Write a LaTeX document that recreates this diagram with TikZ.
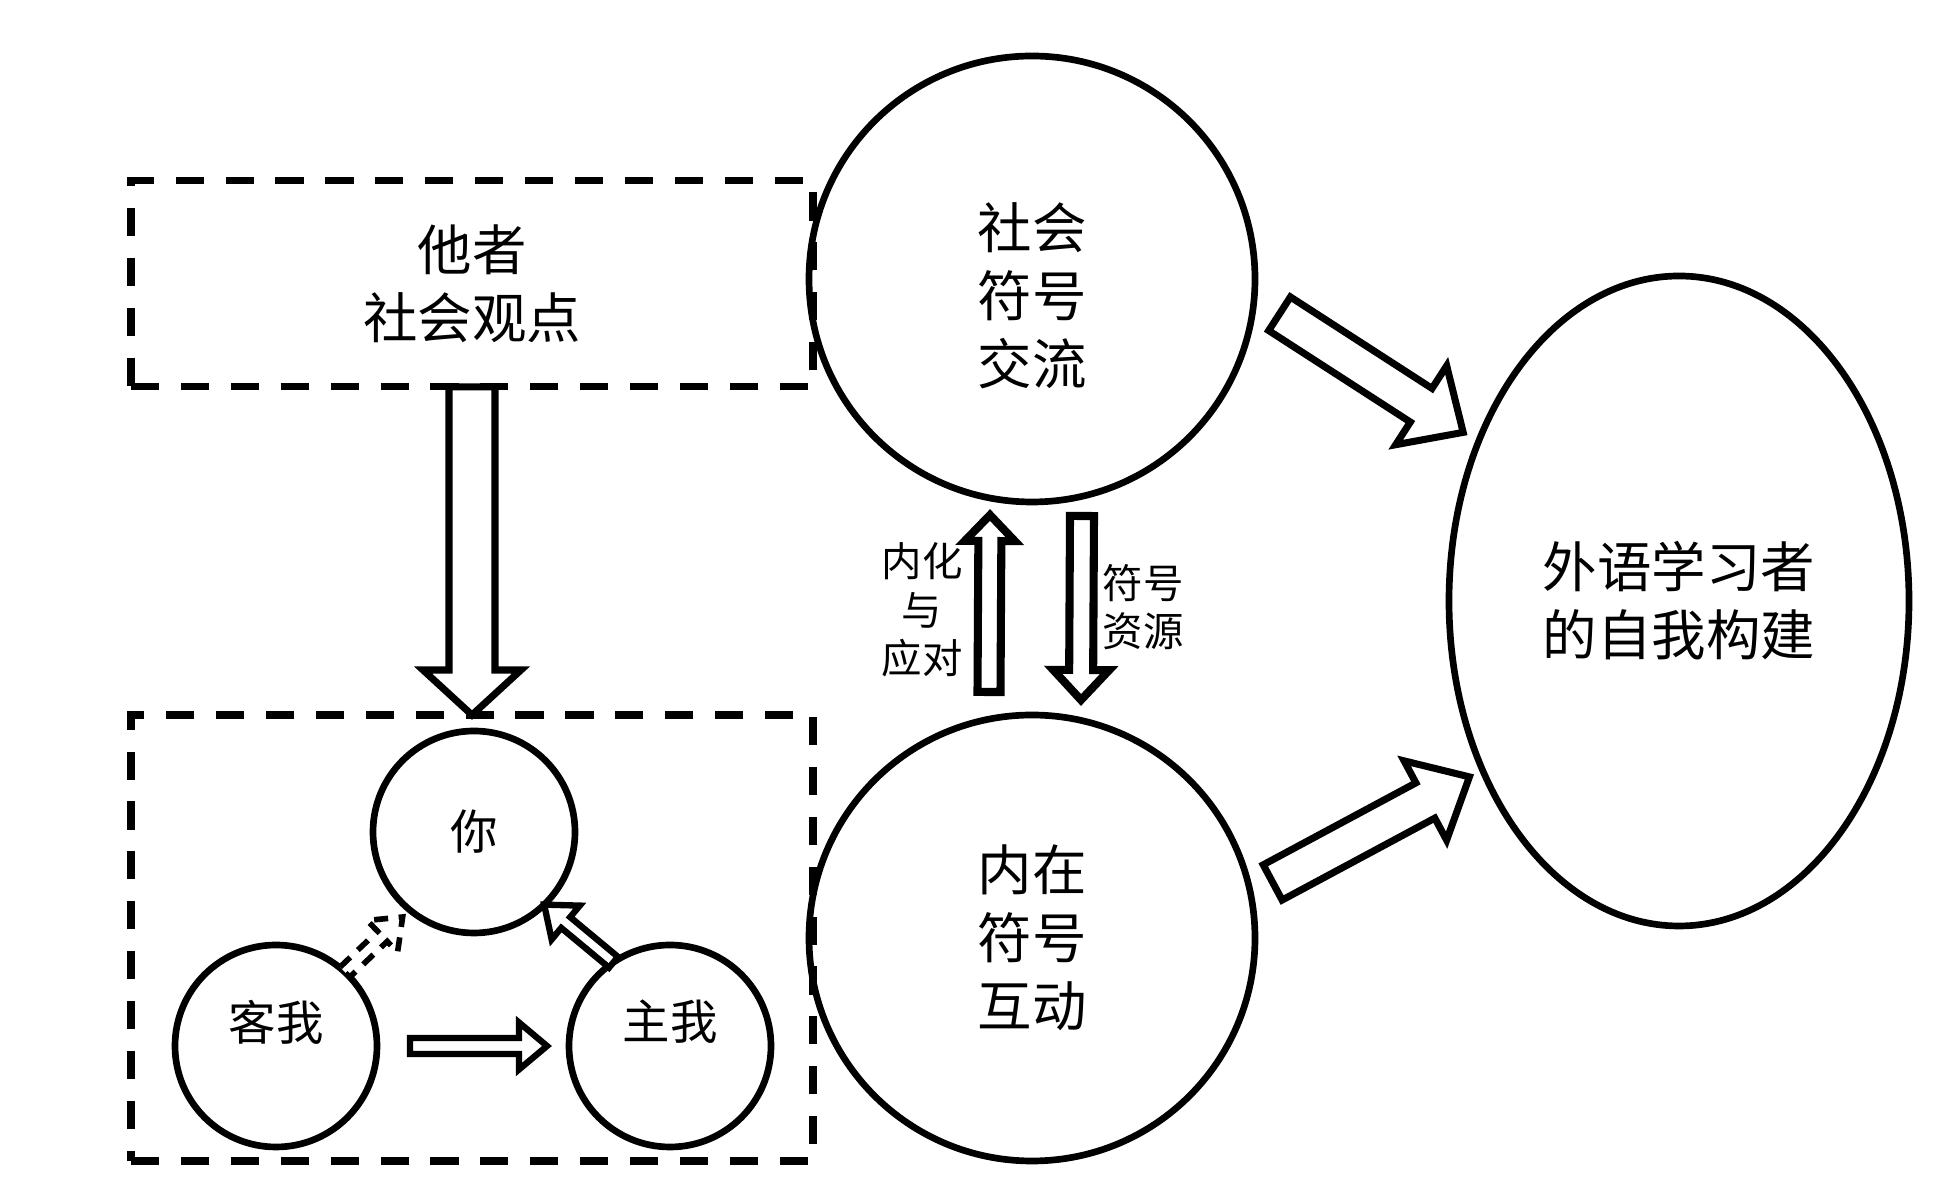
\documentclass[tikz,border=0pt]{standalone}
\usepackage{fontspec}
\setmainfont{Noto Sans CJK SC}
\usepackage{tikz}
\usetikzlibrary{shapes,positioning,calc}

\newcommand{\cnbig}{\fontsize{15.5pt}{19.3pt}\selectfont}
\newcommand{\cnmid}{\fontsize{13.5pt}{16pt}\selectfont}
\newcommand{\cnsmall}{\fontsize{11.5pt}{13.8pt}\selectfont}

% hollow block arrow: [style] {from} {to} {half shaft} {half head} {head length}
\newcommand{\hollowarrow}[6][]{%
  \coordinate (ha-a) at (#2);
  \coordinate (ha-b) at (#3);
  \coordinate (ha-h) at ($(ha-b)!#6!(ha-a)$);
  \draw[blockarrow,#1] ($(ha-a)!#4!90:(ha-b)$) -- ($(ha-h)!#4!-90:(ha-a)$)
    -- ($(ha-h)!#5!-90:(ha-a)$) -- (ha-b) -- ($(ha-h)!#5!90:(ha-a)$)
    -- ($(ha-h)!#4!90:(ha-a)$) -- ($(ha-a)!#4!-90:(ha-b)$) -- cycle;
}

\begin{document}
\begin{tikzpicture}
\tikzstyle{dashbox}=[draw, shape=rectangle, dash pattern=on 8pt off 6.2pt, line width=2pt, inner sep=0pt, outer sep=0pt, minimum width=6.82cm]
\tikzstyle{bigcirc}=[draw, shape=circle, line width=1.9pt, minimum size=4.46cm, outer sep=0pt, align=center, font=\cnbig]
\tikzstyle{smallcirc}=[draw, shape=circle, line width=1.9pt, minimum size=2.02cm, outer sep=0pt, font=\cnmid]
\tikzstyle{lift}=[yshift=0.24cm, font=\cnmid]
\tikzstyle{sink}=[yshift=-0.17cm, align=center, font=\cnbig]
\tikzstyle{note}=[align=center, font=\cnsmall]
\tikzstyle{blockarrow}=[draw, fill=white, line width=2pt, line join=miter]

\useasboundingbox (0,0) rectangle (19.51,11.81);

\node[dashbox, minimum height=4.46cm] (self) at (4.72,2.43) {};
\node[dashbox, minimum height=2.06cm, align=center, font=\cnbig] (other) [above=3.28cm of self] {他者\\社会观点};

\node[bigcirc, label={[sink]center:社会\\符号\\交流}] (social) at (10.32,9.02) {};
\node[bigcirc] (inner) [below=2.13cm of social] {内在\\符号\\互动};
\node[draw, shape=ellipse, line width=1.9pt, minimum width=4.6cm, minimum height=6.5cm, align=center, font=\cnbig] (learner) at (16.79,5.80) {外语学习者\\的自我构建};

\node[smallcirc] (you) at (4.74,3.49) {你};
\node[smallcirc, label={[lift]center:客我}] (me) at (2.76,1.35) {};
\node[smallcirc, label={[lift]center:主我}] (I) [right=1.92cm of me] {};

\node[note] (cope) at (9.22,5.71) {内化\\与\\应对};
\node[note] (res) at (11.43,5.74) {符号\\资源};

\hollowarrow{other.south}{self.north}{0.23cm}{0.49cm}{0.45cm}
\hollowarrow[line width=2.3pt]{$(inner.north)+(-0.43,0.23)$}{$(social.south)+(-0.42,-0.13)$}{0.115cm}{0.25cm}{0.26cm}
\hollowarrow[line width=2.3pt]{$(social.south)+(0.50,-0.14)$}{$(inner.north)+(0.49,0.15)$}{0.12cm}{0.28cm}{0.30cm}
\hollowarrow{$(social.-8)!-0.27cm!(social.center)$}{$(learner.142)!-0.15cm!(learner.center)$}{0.2cm}{0.47cm}{0.5cm}
\hollowarrow{$(inner.13)!-0.24cm!(inner.center)$}{$(learner.-140)!-0.12cm!(learner.center)$}{0.2cm}{0.45cm}{0.5cm}

\hollowarrow[line width=1.8pt]{$(me.east)!-0.33cm!(me.center)$}{$(I.west)!-0.22cm!(I.center)$}{0.08cm}{0.235cm}{0.28cm}
\hollowarrow[line width=1.8pt]{I.124}{you.-46}{0.07cm}{0.22cm}{0.28cm}
\hollowarrow[line width=1.6pt, dash pattern=on 4pt off 3pt]{me.47}{$(you.-130)!-0.1cm!(you.center)$}{0.07cm}{0.22cm}{0.28cm}

\end{tikzpicture}
\end{document}
